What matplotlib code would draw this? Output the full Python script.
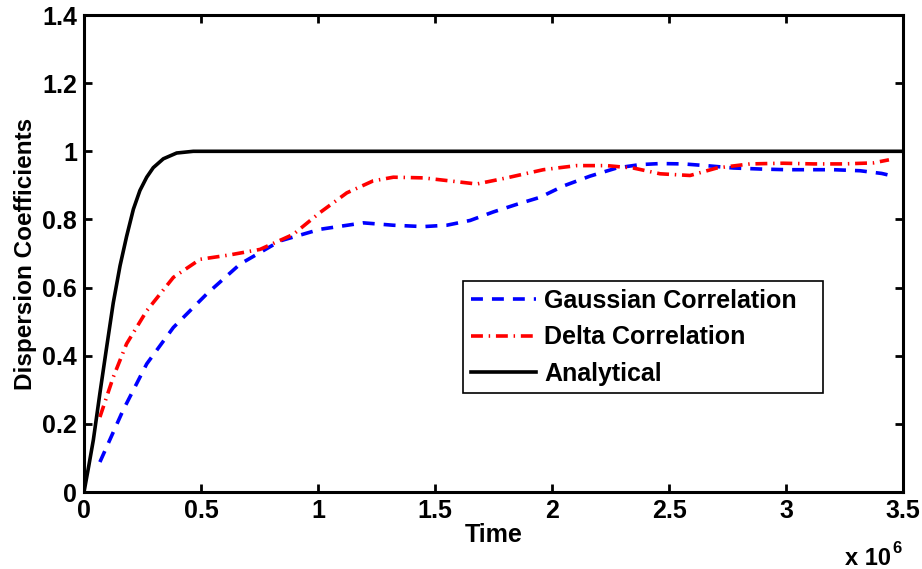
import matplotlib
matplotlib.use("Agg")
import matplotlib.pyplot as plt

# time in units of 1e6
gauss_t = [0.068, 0.167, 0.268, 0.382, 0.524, 0.667, 0.838, 1.008, 1.194, 1.322, 1.45, 1.55,
           1.65, 1.749, 1.848, 1.949, 2.048, 2.162, 2.276, 2.376, 2.462, 2.562, 2.675, 2.775,
           2.889, 3.003, 3.103, 3.202, 3.316, 3.409, 3.44]
gauss_d = [0.088, 0.24, 0.376, 0.483, 0.581, 0.669, 0.737, 0.771, 0.79, 0.783, 0.779, 0.783,
           0.797, 0.822, 0.844, 0.865, 0.898, 0.927, 0.951, 0.961, 0.964, 0.963, 0.957, 0.951,
           0.948, 0.946, 0.946, 0.946, 0.943, 0.935, 0.93]

delta_t = [0.068, 0.125, 0.182, 0.268, 0.382, 0.496, 0.624, 0.752, 0.894, 1.008, 1.123, 1.235,
           1.322, 1.45, 1.578, 1.678, 1.806, 1.963, 2.105, 2.233, 2.347, 2.462, 2.59, 2.704,
           2.846, 2.988, 3.117, 3.245, 3.373, 3.44]
delta_d = [0.22, 0.337, 0.435, 0.532, 0.63, 0.683, 0.696, 0.712, 0.756, 0.82, 0.878, 0.913,
           0.924, 0.922, 0.912, 0.904, 0.922, 0.946, 0.958, 0.958, 0.951, 0.934, 0.929, 0.951,
           0.963, 0.965, 0.963, 0.963, 0.966, 0.975]

anal_t = [0, 0.02, 0.04, 0.068, 0.097, 0.125, 0.154, 0.182, 0.211, 0.239, 0.268, 0.296,
          0.339, 0.396, 0.467, 0.538, 3.5]
anal_d = [0, 0.075, 0.153, 0.29, 0.426, 0.555, 0.664, 0.75, 0.83, 0.885, 0.924, 0.952,
          0.978, 0.995, 1.0, 1.0, 1.0]

x_ticks = [0, 0.5, 1, 1.5, 2, 2.5, 3, 3.5]
y_ticks = [0, 0.2, 0.4, 0.6, 0.8, 1, 1.2, 1.4]
x_labels = ['0', '0.5', '1', '1.5', '2', '2.5', '3', '3.5']
y_labels = ['0', '0.2', '0.4', '0.6', '0.8', '1', '1.2', '1.4']

plt.rcParams['font.family'] = ['Liberation Sans', 'DejaVu Sans']
plt.rcParams['font.weight'] = 'bold'

fig = plt.figure(figsize=(9.22, 5.69), dpi=100)
ax = fig.add_axes([0.0911, 0.1353, 0.8883, 0.8383])

lw = 2.6
ax.plot(gauss_t, gauss_d, color='blue', lw=lw, linestyle=(0, (3.3, 2.5)),
        label='Gaussian Correlation')
ax.plot(delta_t, delta_d, color='red', lw=lw, linestyle=(0, (3.3, 1.6, 0.4, 1.6)),
        label='Delta Correlation')
ax.plot(anal_t, anal_d, color='black', lw=lw, label='Analytical')

ax.set_xlim(0, 3.5)
ax.set_ylim(0, 1.4)
ax.set_xticks(x_ticks)
ax.set_yticks(y_ticks)
ax.set_xticklabels(x_labels)
ax.set_yticklabels(y_labels)
ax.tick_params(direction='in', length=6, width=2, top=True, right=True, labelsize=18, pad=5)
for s in ax.spines.values():
    s.set_linewidth(2.2)

ax.set_xlabel('Time', fontsize=18, fontweight='bold', labelpad=0)
ax.set_ylabel('Dispersion Coefficients', fontsize=17.5, fontweight='bold', labelpad=4)
fig.text(845 / 922, 4 / 569, 'x 10', fontsize=17, fontweight='bold', va='baseline')
fig.text(892 / 922, 16 / 569, '6', fontsize=12, fontweight='bold', va='baseline')

leg = ax.legend(loc='lower left', bbox_to_anchor=(0.463, 0.207, 0.439, 0.234), mode='expand',
                fontsize=18, handlelength=2.6, handletextpad=0.35, borderaxespad=0,
                fancybox=False, framealpha=1, edgecolor='black', labelspacing=0.5,
                borderpad=0.3)
leg.get_frame().set_linewidth(1.2)
for t in leg.get_texts():
    t.set_fontweight('bold')

fig.savefig('out.png', dpi=100)
